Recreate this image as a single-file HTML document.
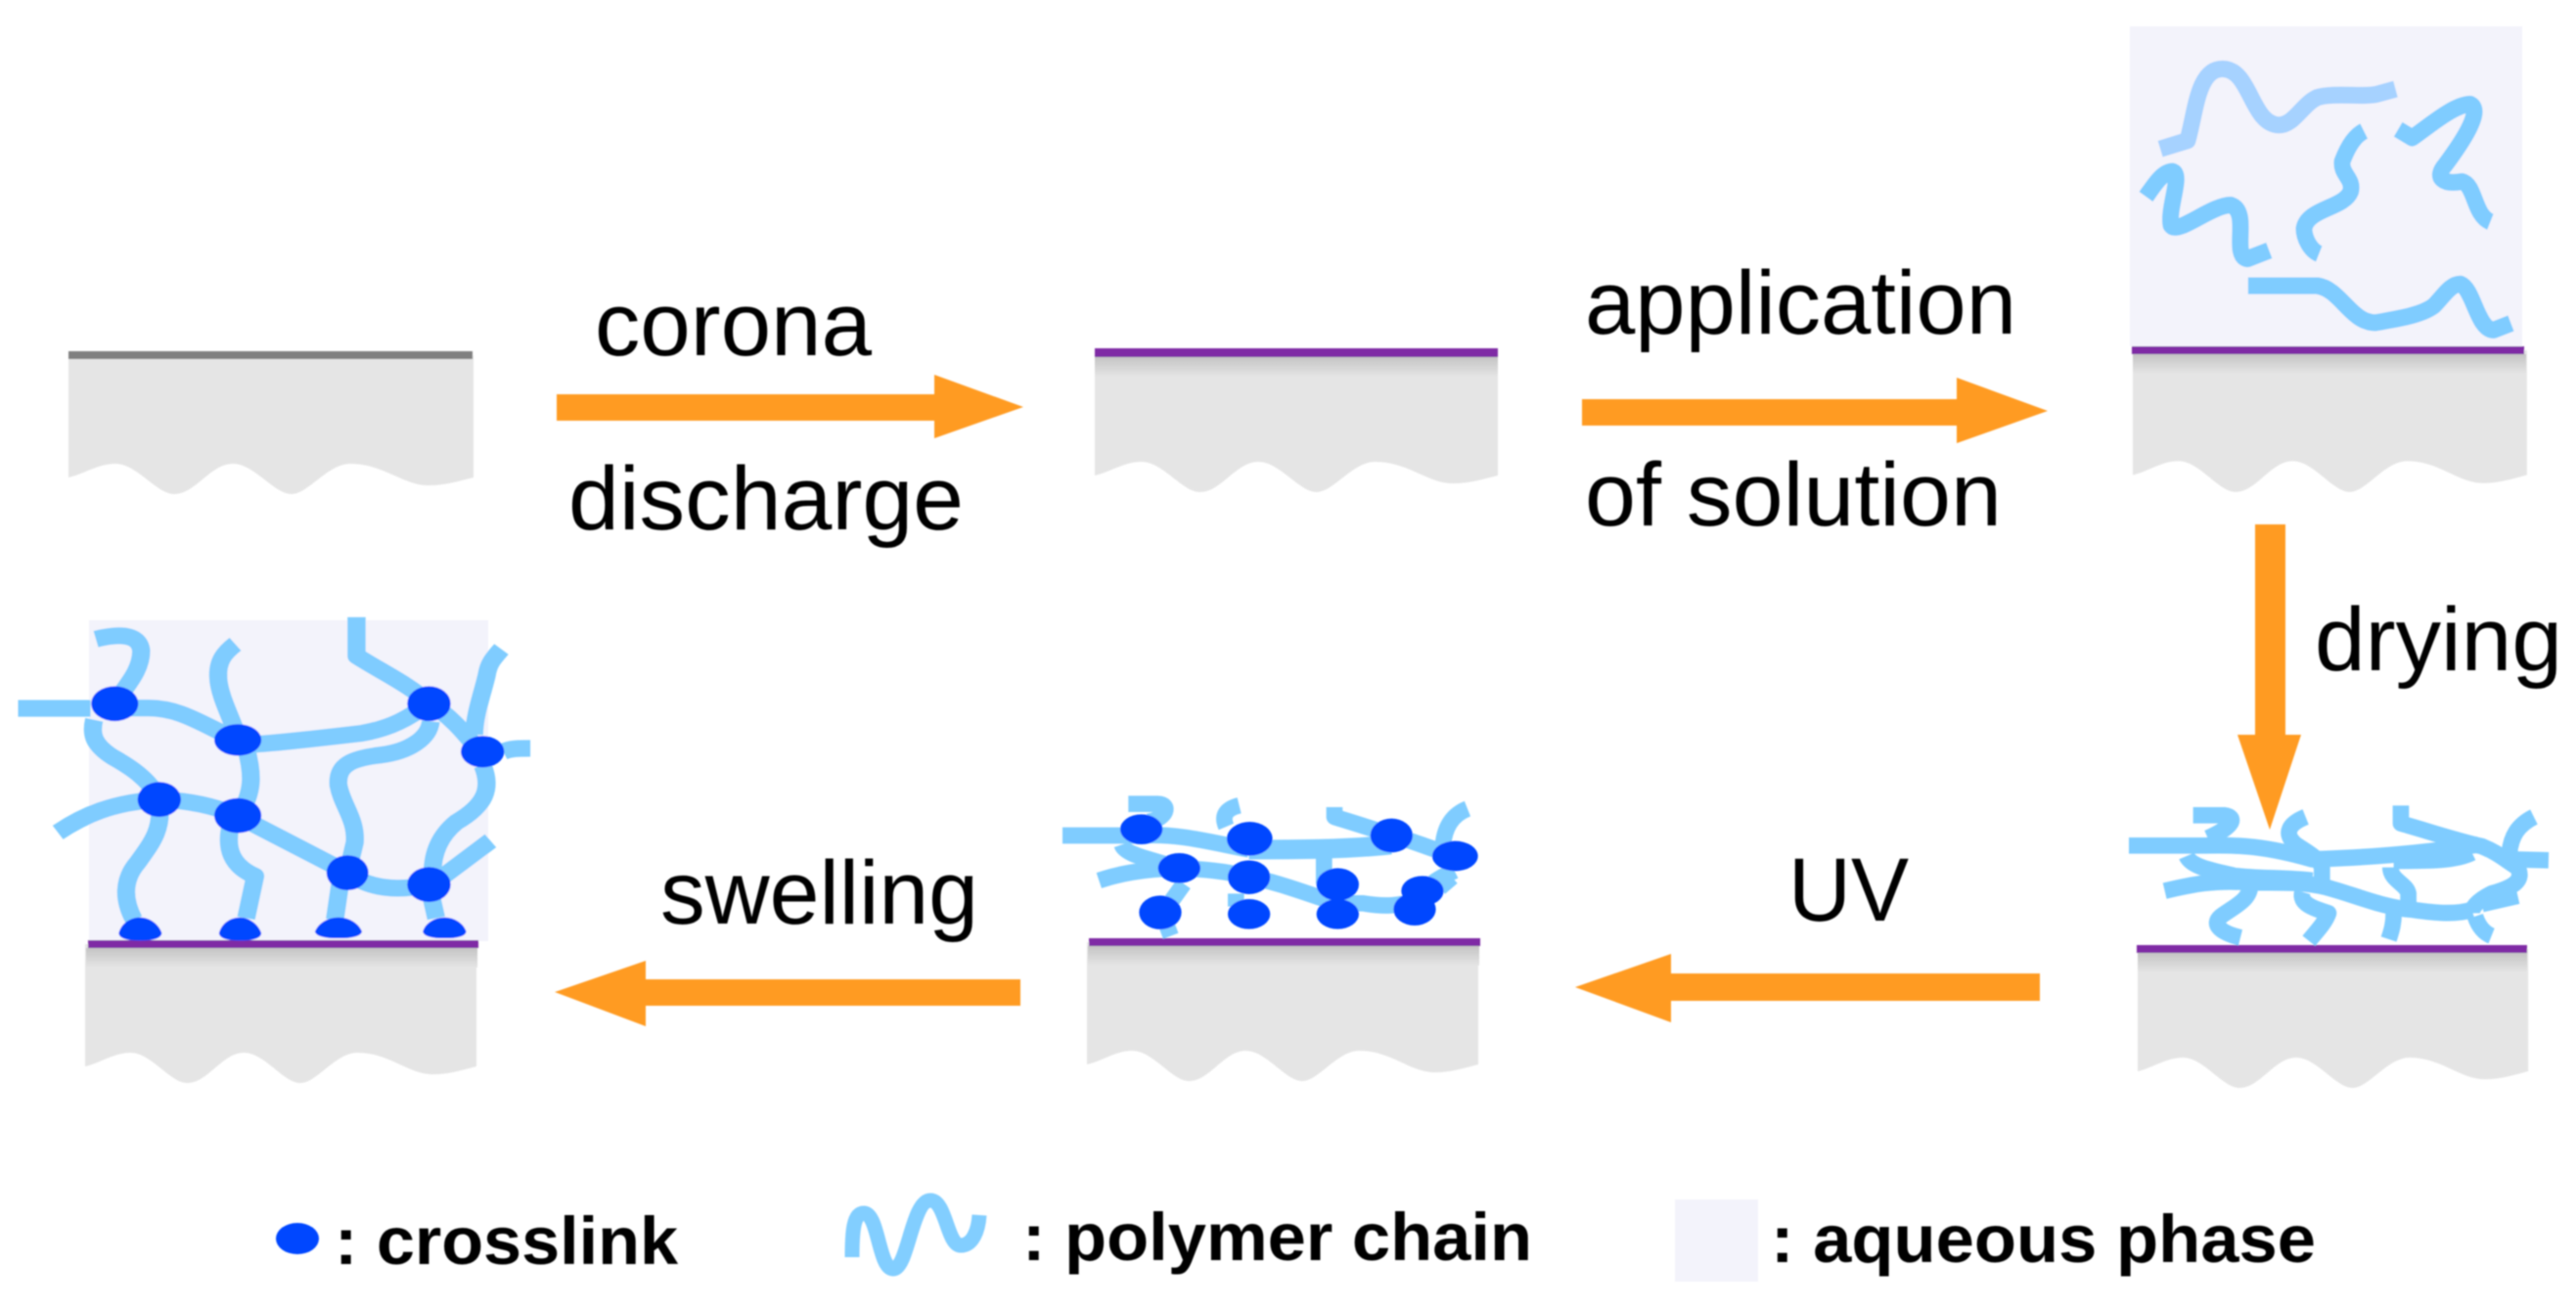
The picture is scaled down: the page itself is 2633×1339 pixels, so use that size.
<!DOCTYPE html>
<html>
<head>
<meta charset="utf-8">
<style>
html,body{margin:0;padding:0;background:#fff;}
svg{display:block;}
text{font-family:"Liberation Sans",sans-serif;fill:#000;}
.t{font-size:92px;}
.b{font-size:69px;font-weight:bold;}
.ch{fill:none;stroke:#7fccff;stroke-width:50;stroke-linejoin:round;}
.n{fill:#0046ff;}
.o{fill:#ff9b21;}
</style>
</head>
<body>
<svg width="2633" height="1339" viewBox="0 0 2633 1339" xmlns="http://www.w3.org/2000/svg">
<defs>
<linearGradient id="sh" x1="0" y1="0" x2="0" y2="1">
<stop offset="0" stop-color="#c4c4c4"/>
<stop offset="1" stop-color="#e5e5e5"/>
</linearGradient>
<filter id="bl" x="-5%" y="-5%" width="110%" height="110%"><feGaussianBlur stdDeviation="0.9"/></filter>
<path id="s" d="M0,0 H414 V125 C395,130 380,134 364,133 C340,131 320,111 288,111 C265,111 245,142 228,142 C210,142 190,111 168,111 C145,111 130,142 108,142 C90,142 70,111 48,111 C30,111 15,122 0,125Z" fill="#e5e5e5"/>
</defs>
<rect width="2633" height="1339" fill="#fff"/>
<g filter="url(#bl)">
<!-- aqueous -->
<rect x="2177" y="27" width="401" height="327" fill="#f3f3fb"/>
<rect x="91" y="634" width="408" height="328" fill="#f3f3fb"/>
<rect x="1712" y="1226" width="85" height="84" fill="#f3f3fb"/>

<!-- substrates -->
<use href="#s" transform="translate(70,363)"/>
<rect x="70" y="359" width="413" height="8" fill="#808080"/>

<use href="#s" transform="translate(1119,361) scale(.995,1)"/>
<rect x="1119" y="365" width="412" height="20" fill="url(#sh)"/>
<rect x="1119" y="356" width="412" height="9" fill="#7f2aa5"/>

<use href="#s" transform="translate(2180,358) scale(.973,1.02)"/>
<rect x="2180" y="362" width="402" height="20" fill="url(#sh)"/>
<rect x="2179" y="354" width="401" height="8" fill="#7f2aa5"/>

<use href="#s" transform="translate(2185,970) scale(.964,1)"/>
<rect x="2185" y="974" width="398" height="20" fill="url(#sh)"/>
<rect x="2184" y="966" width="399" height="8" fill="#7f2aa5"/>

<use href="#s" transform="translate(1111,963) scale(.966,1)"/>
<rect x="1112" y="967" width="400" height="20" fill="url(#sh)"/>
<rect x="1113" y="959" width="400" height="8" fill="#7f2aa5"/>

<use href="#s" transform="translate(87,965) scale(.966,1)"/>
<rect x="88" y="969" width="400" height="20" fill="url(#sh)"/>
<rect x="90" y="961" width="399" height="8" fill="#7f2aa5"/>

<!-- arrows -->
<polygon class="o" points="569,403 955,403 955,383 1046,416 955,448 955,430 569,430"/>
<polygon class="o" points="1617,408 2000,408 2000,386 2093,420 2000,453 2000,435 1617,435"/>
<polygon class="o" points="2305,536 2336,536 2336,751 2352,751 2320,848 2287,751 2305,751"/>
<polygon class="o" points="2085,995 1708,995 1708,975 1610,1009 1708,1045 1708,1023 2085,1023"/>
<polygon class="o" points="1043,1001 660,1001 660,982 567,1014 660,1049 660,1028 1043,1028"/>

<!-- chains C -->
<g transform="translate(2100,0) scale(.34,.3436)">
<path class="ch" style="stroke:#a6d2ff" d="M318,443 L400,418 C425,330 430,205 505,205 C590,205 590,370 675,372 C720,372 745,310 790,290 C840,275 930,290 970,280 L1025,265"/>
<path class="ch" d="M275,585 C300,550 325,510 355,510 C385,520 340,620 350,670 C370,700 470,610 530,610 C590,630 530,760 580,770 L645,745"/>
<path class="ch" d="M930,390 C900,405 880,440 865,480 C860,520 900,530 890,570 C870,620 760,620 750,680 C750,710 770,745 795,755"/>
<path class="ch" d="M1033,385 L1075,410 C1120,380 1200,310 1250,310 C1290,330 1220,430 1175,490 C1140,530 1170,550 1225,540 C1265,550 1260,640 1310,660"/>
<path class="ch" d="M582,850 H790 C860,860 890,960 965,960 C1020,950 1100,940 1140,910 C1170,880 1190,845 1220,845 C1260,860 1270,980 1320,982 L1372,962"/>
</g>

<!-- chains D -->
<g transform="translate(2150,780) scale(.3333)">
<path class="ch" d="M78,253 H310 C420,250 500,255 640,295 C800,290 950,280 1150,250"/>
<path class="ch" d="M275,160 H370 C410,165 400,195 320,230"/>
<path class="ch" d="M620,165 C570,185 550,215 590,250 C620,270 660,290 670,320 V380"/>
<path class="ch" d="M912,130 V185 C1000,210 1090,240 1160,255 C1210,275 1230,295 1270,320 C1290,360 1260,380 1190,400 C1150,420 1130,440 1130,460"/>
<path class="ch" d="M1320,165 C1270,190 1250,225 1245,275"/>
<path class="ch" d="M890,300 C1000,300 1080,300 1130,275"/>
<path class="ch" d="M1245,295 L1365,298"/>
<path class="ch" d="M255,285 C270,320 340,330 400,345 C480,355 560,350 640,360"/>
<path class="ch" d="M188,392 C280,370 340,360 430,365 C510,370 600,360 680,380 C760,400 860,445 950,450 C1020,460 1080,465 1130,450"/>
<path class="ch" d="M880,320 C880,360 930,370 935,400 V440"/>
<path class="ch" d="M450,375 C450,420 400,440 360,470 C330,495 360,520 420,535"/>
<path class="ch" d="M610,395 C600,430 640,445 690,460 C680,490 650,520 630,545"/>
<path class="ch" d="M890,460 C890,490 885,510 875,540"/>
<path class="ch" d="M1140,470 C1150,500 1165,520 1190,530"/>
<path class="ch" style="stroke-width:55" d="M1160,430 L1270,405"/>
</g>

<!-- chains E -->
<g transform="translate(1060,780) scale(.3333)">
<path class="ch" d="M78,222 H320 C430,215 520,240 650,265"/>
<path class="ch" d="M280,125 H370 C410,125 400,170 340,180"/>
<path class="ch" d="M620,130 C580,140 565,160 580,195"/>
<path class="ch" d="M912,135 V165 C960,180 1010,195 1085,220 C1130,230 1200,260 1280,285"/>
<path class="ch" d="M1320,140 C1270,160 1250,200 1245,250"/>
<path class="ch" style="stroke-width:60" d="M650,265 C780,265 950,265 1085,250"/>
<path class="ch" d="M260,250 C270,280 330,290 435,322"/>
<path class="ch" d="M190,360 C250,340 320,325 435,322 C500,325 580,330 650,350 C720,360 800,390 920,430"/>
<path class="ch" d="M920,430 H1000 C1060,440 1100,440 1180,420"/>
<path class="ch" d="M1280,330 C1240,350 1190,370 1180,420"/>
<path class="ch" d="M1240,350 L1270,385"/>
<path class="ch" d="M880,280 V370"/>
<path class="ch" d="M450,370 L400,440"/>
<path class="ch" d="M395,490 L410,530"/>
<path class="ch" d="M610,400 V440"/>
<ellipse class="n" cx="320" cy="203" rx="65" ry="46"/>
<ellipse class="n" cx="652" cy="232" rx="70" ry="52"/>
<ellipse class="n" cx="1087" cy="222" rx="65" ry="52"/>
<ellipse class="n" cx="1282" cy="285" rx="70" ry="46"/>
<ellipse class="n" cx="436" cy="322" rx="65" ry="46"/>
<ellipse class="n" cx="650" cy="350" rx="65" ry="52"/>
<ellipse class="n" cx="922" cy="372" rx="65" ry="50"/>
<ellipse class="n" cx="1182" cy="392" rx="65" ry="46"/>
<ellipse class="n" cx="378" cy="458" rx="65" ry="52"/>
<ellipse class="n" cx="650" cy="463" rx="65" ry="46"/>
<ellipse class="n" cx="922" cy="463" rx="65" ry="46"/>
<ellipse class="n" cx="1158" cy="448" rx="65" ry="50"/>
</g>

<!-- chains F -->
<g transform="translate(0,600) scale(.37,.3436)">
<path class="ch" d="M50,361 H250"/>
<path class="ch" d="M317,360 H410 C500,360 560,410 655,455"/>
<path class="ch" d="M265,155 C320,140 385,135 390,190 C390,240 360,280 340,310"/>
<path class="ch" d="M650,170 C620,195 600,220 603,270 C605,320 635,380 655,440"/>
<path class="ch" d="M985,90 V205 C1050,250 1130,290 1185,345"/>
<path class="ch" d="M1185,345 C1240,380 1280,430 1310,470"/>
<path class="ch" d="M1385,185 C1365,210 1350,225 1345,260 C1335,310 1310,380 1310,440"/>
<path class="ch" d="M655,470 C720,470 880,450 1000,435 C1080,420 1130,390 1185,345"/>
<path class="ch" d="M1190,400 C1185,450 1130,490 1050,500 C970,510 930,530 935,590 C945,650 985,690 980,760 L960,850"/>
<path class="ch" d="M260,395 C250,440 260,470 310,505 C360,535 410,570 440,630"/>
<path class="ch" d="M160,730 C230,680 310,640 440,632 C520,635 590,650 655,680"/>
<path class="ch" d="M660,680 C700,610 700,560 680,480"/>
<path class="ch" d="M440,640 C450,720 420,760 380,820 C340,870 340,930 370,990"/>
<path class="ch" d="M635,720 C625,780 640,830 705,860 L680,985"/>
<path class="ch" d="M655,680 L960,850"/>
<path class="ch" d="M960,850 C1010,890 1080,910 1185,885"/>
<path class="ch" d="M940,880 L925,990"/>
<path class="ch" d="M1185,890 L1205,985"/>
<path class="ch" d="M1333,530 C1360,600 1340,650 1260,700 C1215,740 1195,790 1195,850"/>
<path class="ch" d="M1225,860 L1355,755"/>
<path class="ch" d="M1390,490 C1410,480 1430,480 1465,480"/>
<ellipse class="n" cx="317" cy="347" rx="65" ry="52"/>
<ellipse class="n" cx="657" cy="455" rx="65" ry="47"/>
<ellipse class="n" cx="1185" cy="347" rx="60" ry="52"/>
<ellipse class="n" cx="1333" cy="490" rx="60" ry="47"/>
<ellipse class="n" cx="440" cy="632" rx="60" ry="52"/>
<ellipse class="n" cx="657" cy="680" rx="65" ry="52"/>
<ellipse class="n" cx="960" cy="850" rx="58" ry="52"/>
<ellipse class="n" cx="1185" cy="885" rx="60" ry="52"/>
<path class="n" d="M328,1030 C335,1000 360,983 387,983 C415,983 440,1005 447,1030 Q445,1052 387,1052 Q330,1052 328,1030Z"/>
<path class="n" d="M605,1030 C612,1000 637,983 663,983 C690,983 715,1005 722,1030 Q720,1052 663,1052 Q607,1052 605,1030Z"/>
<path class="n" d="M870,1025 C880,1000 905,983 935,983 C965,983 990,1000 1000,1025 Q995,1045 935,1045 Q875,1045 870,1025Z"/>
<path class="n" d="M1168,1025 C1175,1000 1200,983 1228,983 C1255,983 1280,1000 1288,1025 Q1285,1045 1228,1045 Q1172,1045 1168,1025Z"/>
</g>

<!-- legend -->
<ellipse class="n" cx="304" cy="1266" rx="22" ry="16"/>
<path fill="none" stroke="#82ceff" stroke-width="15" d="M871,1285 C871,1260 872,1240 883,1240 C898,1240 898,1297 913,1297 C928,1297 932,1227 951,1227 C967,1227 968,1273 982,1273 C994,1273 1000,1258 1001,1242"/>

<!-- labels -->
<text class="t" x="608" y="363" textLength="283" lengthAdjust="spacingAndGlyphs">corona</text>
<text class="t" x="581" y="541" textLength="404" lengthAdjust="spacingAndGlyphs">discharge</text>
<text class="t" x="1620" y="341" textLength="441" lengthAdjust="spacingAndGlyphs">application</text>
<text class="t" x="1620" y="537" textLength="426" lengthAdjust="spacingAndGlyphs">of solution</text>
<text class="t" x="2366" y="685" textLength="253" lengthAdjust="spacingAndGlyphs">drying</text>
<text class="t" x="1828" y="941" textLength="123" lengthAdjust="spacingAndGlyphs">UV</text>
<text class="t" x="675" y="944" textLength="325" lengthAdjust="spacingAndGlyphs">swelling</text>
<text class="b" x="342" y="1292" textLength="351" lengthAdjust="spacingAndGlyphs">: crosslink</text>
<text class="b" x="1045" y="1288" textLength="521" lengthAdjust="spacingAndGlyphs">: polymer chain</text>
<text class="b" x="1810" y="1290" textLength="557" lengthAdjust="spacingAndGlyphs">: aqueous phase</text>
</g>
</svg>
</body>
</html>
